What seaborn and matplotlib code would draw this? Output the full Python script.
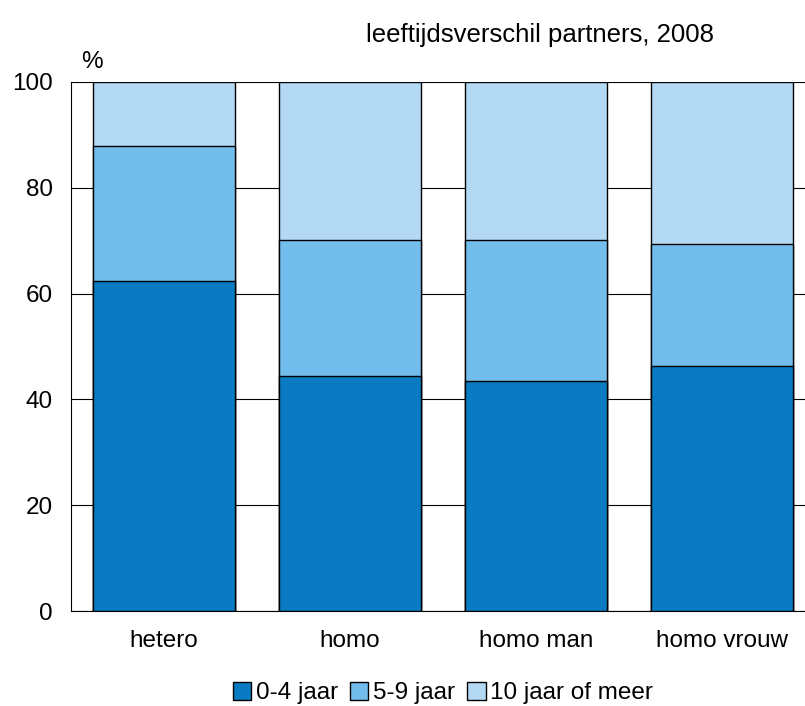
import numpy as np
import pandas as pd
import matplotlib
matplotlib.use("Agg")
import matplotlib.pyplot as plt
import seaborn as sns
from matplotlib.patches import Patch

# data
categories = ["hetero", "homo", "homo man", "homo vrouw"]
jaar_0_4 = [62.4, 44.4, 43.5, 46.3]
jaar_5_9 = [25.5, 25.7, 26.6, 23.1]
jaar_10_plus = [12.1, 29.9, 29.9, 30.6]
series_names = ["0-4 jaar", "5-9 jaar", "10 jaar of meer"]
colors = ["#0a7bc3", "#73bdec", "#b3d9f4"]

df = pd.DataFrame({
    "categorie": categories,
    "a": jaar_0_4,
    "b": jaar_5_9,
    "c": jaar_10_plus,
})
df["cum_a"] = df["a"]
df["cum_b"] = df["a"] + df["b"]
df["cum_c"] = df["a"] + df["b"] + df["c"]

sns.set_style("white")
plt.rcParams["font.family"] = ["Liberation Sans", "DejaVu Sans"]
plt.rcParams["text.color"] = "black"
plt.rcParams["xtick.color"] = "black"
plt.rcParams["ytick.color"] = "black"

fs = 17.5

fig = plt.figure(figsize=(8.05, 7.06), dpi=100)
ax = fig.add_axes([71 / 805, 1 - 611 / 706, (815 - 71) / 805, (611 - 82) / 706])

# stacked bars: draw cumulative totals from the top layer down
for col, c in zip(["cum_c", "cum_b", "cum_a"], colors[::-1]):
    sns.barplot(data=df, x="categorie", y=col, color=c, width=0.763,
                edgecolor="black", linewidth=1.0, saturation=1, ax=ax, zorder=3)

ax.set_ylim(0, 100)
ax.set_xlim(-0.5, 3.5)
ax.set_yticks([0, 20, 40, 60, 80, 100])
ax.yaxis.grid(True, color="black", linewidth=0.8, zorder=0)
ax.set_axisbelow(True)
ax.set_xlabel("")
ax.set_ylabel("")
ax.tick_params(axis="y", labelsize=fs, length=0, pad=13)
ax.tick_params(axis="x", labelsize=fs, length=0, pad=14)
for s in ["top", "right"]:
    ax.spines[s].set_visible(False)
ax.spines["left"].set_color("black")
ax.spines["bottom"].set_color("black")

fig.text(540 / 805, 1 - 35 / 706, "leeftijdsverschil partners, 2008",
         ha="center", va="center", fontsize=18.5)
fig.text(92 / 805, 1 - 62 / 706, "%", ha="center", va="center", fontsize=fs)

handles = [Patch(facecolor=c, edgecolor="black", linewidth=1.0) for c in colors]
fig.legend(handles, series_names, loc="center", bbox_to_anchor=(443 / 805, 1 - 693 / 706),
           ncol=3, frameon=False, fontsize=fs, handlelength=0.75, handleheight=0.75,
           handletextpad=0.2, columnspacing=0.5, borderpad=0)

fig.savefig("out.png", dpi=100)
